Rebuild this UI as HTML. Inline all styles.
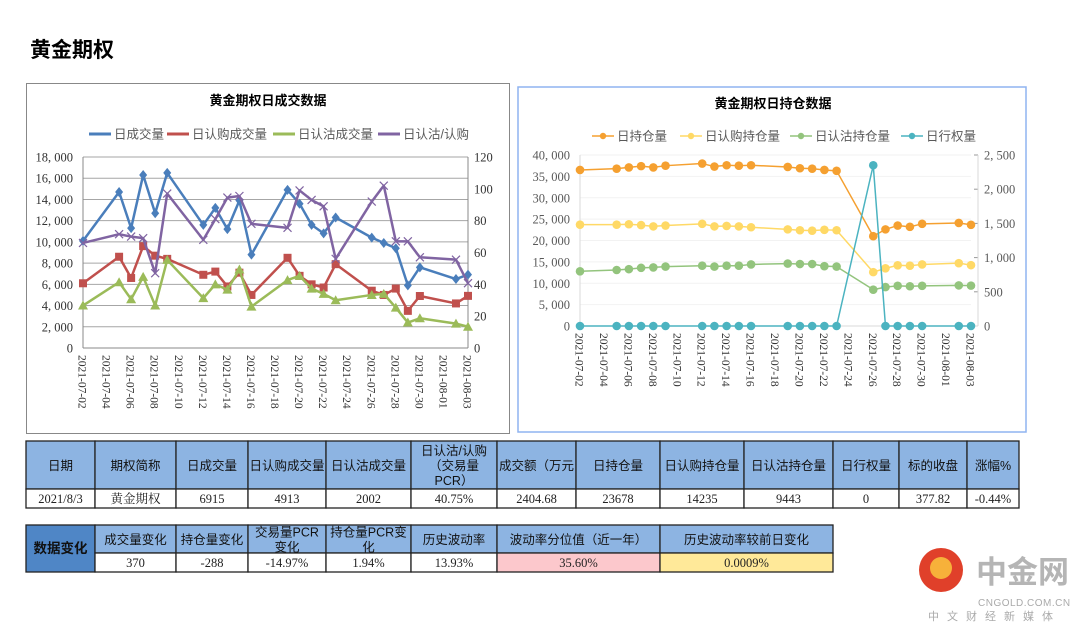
<!DOCTYPE html>
<html><head><meta charset="utf-8">
<style>
body{margin:0;background:#fff;width:1080px;height:622px;overflow:hidden;font-family:"Liberation Serif","Noto Serif CJK SC",serif;}
svg{position:absolute;left:0;top:0}
</style></head>
<body>
<svg id="s" width="1080" height="622" xmlns="http://www.w3.org/2000/svg"></svg>
<script>
const dates=["2021-07-02","2021-07-05","2021-07-06","2021-07-07","2021-07-08","2021-07-09","2021-07-12","2021-07-13","2021-07-14","2021-07-15","2021-07-16","2021-07-19","2021-07-20","2021-07-21","2021-07-22","2021-07-23","2021-07-26","2021-07-27","2021-07-28","2021-07-29","2021-07-30","2021-08-02","2021-08-03"];
const tickDates=["2021-07-02","2021-07-04","2021-07-06","2021-07-08","2021-07-10","2021-07-12","2021-07-14","2021-07-16","2021-07-18","2021-07-20","2021-07-22","2021-07-24","2021-07-26","2021-07-28","2021-07-30","2021-08-01","2021-08-03"];
const volTotal=[10100,14700,11300,16300,12700,16500,11600,13200,11200,13900,8800,14900,13600,11600,10800,12300,10400,9900,9400,5900,7600,6500,6915];
const volCall=[6100,8600,6600,9600,8700,8400,6900,7200,5800,7100,5000,8500,6800,6000,5700,7900,5400,5000,5600,3500,4900,4200,4913];
const volPut=[4000,6200,4600,6700,4000,8300,4700,6000,5500,7400,3900,6400,6800,5600,5100,4500,5000,5100,3800,2400,2800,2300,2002];
const pcr=[66,71.5,70,69,47,97,68,81,94.5,95.5,78,75.5,99,93,89,56,92,102,67,67,57,55.5,40.75];
const oiTotal=[36500,36800,37100,37400,37100,37500,38000,37300,37600,37500,37600,37200,36900,36800,36500,36300,21000,22600,23500,23200,23900,24100,23678];
const oiCall=[23700,23700,23800,23600,23300,23500,23900,23300,23400,23300,23100,22600,22400,22300,22500,22400,12600,13500,14200,14100,14400,14700,14235];
const oiPut=[12800,13100,13300,13600,13700,13900,14100,13900,14100,14100,14400,14600,14500,14500,14000,13900,8500,9100,9400,9300,9400,9500,9443];
const exercise=[0,0,0,0,0,0,0,0,0,0,0,0,0,0,0,0,2350,0,0,0,0,0,0];
const leftTicks1=[0,2000,4000,6000,8000,10000,12000,14000,16000,18000];
const rightTicks1=[0,20,40,60,80,100,120];
const leftTicks2=[0,5000,10000,15000,20000,25000,30000,35000,40000];
const rightTicks2=[0,500,1000,1500,2000,2500];

const S=document.getElementById('s');
const NS="http://www.w3.org/2000/svg";
function el(t,a,txt){const e=document.createElementNS(NS,t);for(const k in a)e.setAttribute(k,a[k]);if(txt!=null)e.textContent=txt;S.appendChild(e);return e;}
const d0=Date.UTC(2021,6,2);
function day(s){const p=s.split('-');return (Date.UTC(+p[0],+p[1]-1,+p[2])-d0)/86400000;}
const fmt=v=>v.toLocaleString('en-US').replace(/,/g,', ');
const CJK='"Liberation Sans","Noto Sans CJK SC",sans-serif';
const SER='"Liberation Serif","Noto Serif CJK SC",serif';

let t=el('text',{x:30,y:57,'font-size':21,'font-weight':'bold','font-family':CJK,fill:'#000'},'黄金期权');


// chart frames
let f=el('rect',{x:26.5,y:83.5,width:483,height:350,fill:'#fff',stroke:'#888','stroke-width':1});

f=el('rect',{x:518,y:87,width:508,height:345,fill:'#fff',stroke:'#8fb4f0','stroke-width':1.5});


function chart(cfg){
  const {x0,x1,y0,y1,lmax,rmax,lt,rt,gridColor}=cfg;
  const X=d=>x0+(x1-x0)*day(d)/32;
  const YL=v=>y0-(y0-y1)*v/lmax;
  const YR=v=>y0-(y0-y1)*v/rmax;
  lt.forEach(v=>{
    const g=el('line',{x1:x0,x2:x1,y1:YL(v),y2:YL(v),stroke:gridColor,'stroke-width':1});
    
    const l=el('text',{x:x0-10,y:YL(v)+4.5,'text-anchor':'end','font-size':12.5,'font-family':SER,fill:cfg.axisText},fmt(v));
    
  });
  rt.forEach(v=>{
    const l=el('text',{x:cfg.rx+6,y:YR(v)+4.5,'font-size':12.5,'font-family':SER,fill:cfg.axisText},fmt(v));
    
    if(cfg.rtick){const k=el('line',{x1:cfg.rx-4,x2:cfg.rx,y1:YR(v),y2:YR(v),stroke:'#999'});}
  });
  let a=el('line',{x1:x0,x2:x0,y1:y1,y2:y0,stroke:cfg.axisLine});
  a=el('line',{x1:cfg.rx,x2:cfg.rx,y1:y1,y2:y0,stroke:cfg.axisLine});
  a=el('line',{x1:x0,x2:cfg.rx,y1:y0,y2:y0,stroke:cfg.axisLine});
  tickDates.forEach(d=>{
    const x=X(d);
    const l=el('text',{x:0,y:0,transform:`translate(${x-4.5},${y0+7}) rotate(90)`,'font-size':11.5,'font-family':SER,fill:'#333'},d);
    
  });
  return {X,YL,YR};
}
function series(ax,vals,Y,color,w,marker,name){
  const pts=dates.map((d,i)=>[ax.X(d),Y(vals[i])]);
  const p=el('polyline',{points:pts.map(q=>q.join(',')).join(' '),fill:'none',stroke:color,'stroke-width':w,'stroke-linejoin':'round'});
  
  pts.forEach(([x,y])=>{
    let m;
    if(marker==='diamond')m=el('polygon',{points:`${x},${y-5} ${x+4},${y} ${x},${y+5} ${x-4},${y}`,fill:color});
    else if(marker==='square')m=el('rect',{x:x-4,y:y-4,width:8,height:8,fill:color});
    else if(marker==='tri')m=el('polygon',{points:`${x},${y-5} ${x+5},${y+4} ${x-5},${y+4}`,fill:color});
    else if(marker==='x')m=el('path',{d:`M${x-4},${y-4}L${x+4},${y+4}M${x-4},${y+4}L${x+4},${y-4}`,stroke:color,'stroke-width':1.2});
    else m=el('circle',{cx:x,cy:y,r:4.3,fill:color});
    
  });
}
function legend(items,y){
  items.forEach(([x,color,label,mk])=>{
    const l=el('line',{x1:x,x2:x+22,y1:y,y2:y,stroke:color,'stroke-width':mk?1.5:3});
    
    if(mk){const c=el('circle',{cx:x+11,cy:y,r:3.2,fill:color});}
    const t=el('text',{x:x+25,y:y+4.5,'font-size':12.5,'font-family':CJK,fill:'#595959'},label);
    
  });
}

// left chart
t=el('text',{x:268,y:105,'text-anchor':'middle','font-size':13,'font-weight':'bold','font-family':CJK,fill:'#000'},'黄金期权日成交数据');

legend([[89,'#4a7ebb','日成交量'],[167,'#c0504d','日认购成交量'],[273,'#9bbb59','日认沽成交量'],[378,'#8064a2','日认沽/认购']],134);
const A=chart({x0:83,x1:468,y0:348,y1:157,rx:468,lmax:18000,rmax:120,lt:leftTicks1,rt:rightTicks1,gridColor:'#a6a6a6',axisLine:'#888',axisText:'#333',rtick:false});
series(A,volTotal,A.YL,'#4a7ebb',2.5,'diamond','total-volume');
series(A,volCall,A.YL,'#c0504d',2.5,'square','call-volume');
series(A,volPut,A.YL,'#9bbb59',2.5,'tri','put-volume');
series(A,pcr,A.YR,'#8064a2',2.5,'x','put-call-ratio');

// right chart
t=el('text',{x:773,y:108,'text-anchor':'middle','font-size':13,'font-weight':'bold','font-family':CJK,fill:'#000'},'黄金期权日持仓数据');

legend([[592,'#f5a030','日持仓量',1],[680,'#ffd966','日认购持仓量',1],[790,'#93c47d','日认沽持仓量',1],[901,'#4bb3c0','日行权量',1]],136);
const B=chart({x0:580,x1:971,y0:326,y1:155,rx:978,lmax:40000,rmax:2500,lt:leftTicks2,rt:rightTicks2,gridColor:'#f2f2f2',axisLine:'#d9d9d9',axisText:'#595959',rtick:true});
series(B,oiTotal,B.YL,'#f5a030',1.5,'c','total-oi');
series(B,oiCall,B.YL,'#ffd966',1.5,'c','call-oi');
series(B,oiPut,B.YL,'#93c47d',1.5,'c','put-oi');
series(B,exercise,B.YR,'#4bb3c0',1.5,'c','exercise');

// tables
function table(cols,y0,hh,dh,heads,vals,name,cellFills,headFills){
  for(let i=0;i<cols.length-1;i++){
    const x=cols[i],w=cols[i+1]-cols[i];
    let r=el('rect',{x:x,y:y0,width:w,height:hh,fill:(headFills&&headFills[i])||'#8db4e2',stroke:'#222','stroke-width':1.3});
    
    const lines=heads[i].split('|');
    lines.forEach((ln,k)=>{
      const tt=el('text',{x:x+w/2,y:y0+hh/2+5-(lines.length-1)*7.5+k*15,'text-anchor':'middle','font-size':(headFills&&headFills[i])?14:12.5,'font-weight':(headFills&&headFills[i])?'bold':'normal','font-family':CJK,fill:'#111'},ln);
      
    });
    if(vals[i]!==null){
      r=el('rect',{x:x,y:y0+hh,width:w,height:dh,fill:(cellFills&&cellFills[i])||'#fff',stroke:'#222','stroke-width':1.3});
      
      const tt=el('text',{x:x+w/2,y:y0+hh+dh/2+4.5,'text-anchor':'middle','font-size':12.5,'font-family':SER,fill:'#222'},vals[i]);
      
    }
  }
}
table([26,95,176,248,326,411,497,576,660,744,833,899,967,1019],441,48,19,
 ['日期','期权简称','日成交量','日认购成交量','日认沽成交量','日认沽/认购|（交易量|PCR）','成交额（万元','日持仓量','日认购持仓量','日认沽持仓量','日行权量','标的收盘','涨幅%'],
 ['2021/8/3','黄金期权','6915','4913','2002','40.75%','2404.68','23678','14235','9443','0','377.82','-0.44%'],'summary');
// data change table
let r=el('rect',{x:26,y:525,width:69,height:47,fill:'#4f86c6',stroke:'#222','stroke-width':1.3});

t=el('text',{x:60.5,y:553,'text-anchor':'middle','font-size':13.5,'font-weight':'bold','font-family':CJK,fill:'#111'},'数据变化');

table([95,176,248,326,411,497,660,833],525,28,19,
 ['成交量变化','持仓量变化','交易量PCR|变化','持仓量PCR变|化','历史波动率','波动率分位值（近一年）','历史波动率较前日变化'],
 ['370','-288','-14.97%','1.94%','13.93%','35.60%','0.0009%'],'change',[null,null,null,null,null,'#fcc8cc','#ffe999']);

// logo
r=el('circle',{cx:941,cy:570,r:22,fill:'#e0402a'});
r=el('circle',{cx:941,cy:568,r:11,fill:'#f7b13a'});
t=el('text',{x:976,y:583,'font-size':31,'font-weight':'bold','font-family':CJK,fill:'#b5b5b5'},'中金网');

t=el('text',{x:978,y:606,'font-size':10,'font-family':CJK,fill:'#aaa','letter-spacing':0.5},'CNGOLD.COM.CN');

t=el('text',{x:928,y:620,'font-size':11,'font-family':CJK,fill:'#aaa','letter-spacing':8},'中文财经新媒体');

</script>
</body></html>
